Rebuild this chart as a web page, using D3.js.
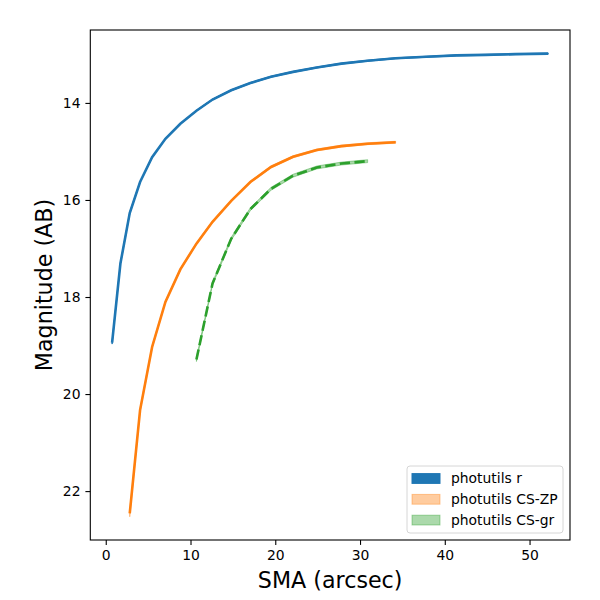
<!DOCTYPE html>
<html>
<head>
<meta charset="utf-8">
<script src="https://cdn.jsdelivr.net/npm/d3@7"></script>
<style>
  body { margin: 0; background: #fff; }
  text { font-family: "DejaVu Sans", sans-serif; }
</style>
</head>
<body>
<div id="chart"></div>
<script>
// semi-major axis grid shared by the three profiles (arcsec)
const sma = [0.75, 1.73, 2.83, 4.05, 5.47, 7.04, 8.8, 10.7, 12.6, 14.8, 17.06,
  19.5, 22.1, 24.9, 27.8, 30.9, 34.2, 37.8, 41.4, 44.8, 48.3, 52.2];

// photutils r : all radii
const magR = [18.94, 17.31, 16.27, 15.63, 15.12, 14.74, 14.43, 14.16, 13.93, 13.74, 13.59,
  13.46, 13.36, 13.27, 13.19, 13.13, 13.08, 13.05, 13.02, 13.01, 12.995, 12.985];
const errR = [0.03, 0.02, 0.02, 0.01, 0.01, 0.01, 0.01, 0.01, 0.01, 0.01, 0.01,
  0.01, 0.01, 0.01, 0.01, 0.01, 0.01, 0.01, 0.01, 0.01, 0.01, 0.01];

// photutils CS-ZP : sma[2] .. sma[16]
const magZP = [22.46, 20.33, 19.03, 18.10, 17.43, 16.90, 16.45, 16.02, 15.63, 15.32, 15.11,
  14.97, 14.89, 14.84, 14.81];
const errZP = [0.07, 0.04, 0.03, 0.02, 0.02, 0.02, 0.02, 0.02, 0.02, 0.02, 0.02,
  0.02, 0.02, 0.02, 0.02];

// photutils CS-gr : sma[7] .. sma[15]
const magGR = [19.29, 17.72, 16.80, 16.19, 15.77, 15.50, 15.33, 15.25, 15.20];
const errGR = [0.04, 0.03, 0.03, 0.03, 0.03, 0.03, 0.03, 0.03, 0.03];

const labels = ["photutils r", "photutils CS-ZP", "photutils CS-gr"];
const xTicks = [0, 10, 20, 30, 40, 50];
const yTicks = [14, 16, 18, 20, 22];

const width = 600, height = 600;
const margin = { left: 90.3, right: 30, top: 30, bottom: 60 };

function build(start, mags, errs) {
  return mags.map((m, i) => ({ x: sma[start + i], y: m, lo: m - errs[i], hi: m + errs[i] }));
}

const series = [
  { name: labels[0], color: "#1f77b4", bandAlpha: 1.0, dash: null, pts: build(0, magR, errR) },
  { name: labels[1], color: "#ff7f0e", bandAlpha: 0.4, dash: null, pts: build(2, magZP, errZP) },
  { name: labels[2], color: "#2ca02c", bandAlpha: 0.4, dash: "10.3,4.4", pts: build(7, magGR, errGR) }
];

const svg = d3.select("#chart").append("svg")
  .attr("width", width).attr("height", height);

// matplotlib-like 5% padding around the data
const all = series.flatMap(s => s.pts);
const xmin = d3.min(all, d => d.x), xmax = d3.max(all, d => d.x);
const ymin = d3.min(all, d => d.lo), ymax = d3.max(all, d => d.hi);
const xpad = (xmax - xmin) * 0.05, ypad = (ymax - ymin) * 0.05;

const x = d3.scaleLinear()
  .domain([xmin - xpad, xmax + xpad])
  .range([margin.left, width - margin.right]);
// magnitudes: brighter at top
const y = d3.scaleLinear()
  .domain([ymin - ypad, ymax + ypad])
  .range([margin.top, height - margin.bottom]);

const plot = svg.append("g");

// bands
const area = d3.area()
  .x(d => x(d.x))
  .y0(d => y(d.lo))
  .y1(d => y(d.hi));

plot.selectAll("path.band")
  .data(series)
  .enter().append("path")
  .attr("class", "band")
  .attr("d", s => area(s.pts))
  .attr("fill", s => s.color)
  .attr("fill-opacity", s => s.bandAlpha)
  .attr("stroke", s => s.color)
  .attr("stroke-opacity", s => s.bandAlpha)
  .attr("stroke-width", 1);

// lines
const line = d3.line()
  .x(d => x(d.x))
  .y(d => y(d.y));

plot.selectAll("path.line")
  .data(series)
  .enter().append("path")
  .attr("class", "line")
  .attr("d", s => line(s.pts))
  .attr("fill", "none")
  .attr("stroke", s => s.color)
  .attr("stroke-width", 2.6)
  .attr("stroke-dasharray", s => s.dash);

// axes
const xAxis = svg.append("g")
  .attr("transform", `translate(0,${height - margin.bottom})`)
  .call(d3.axisBottom(x).tickValues(xTicks).tickSize(4.9).tickPadding(4.9));
const yAxis = svg.append("g")
  .attr("transform", `translate(${margin.left},0)`)
  .call(d3.axisLeft(y).tickValues(yTicks).tickSize(4.9).tickPadding(4.9));

[xAxis, yAxis].forEach(g => {
  g.select(".domain").remove();
  g.selectAll(".tick line").attr("stroke", "#000").attr("stroke-width", 1.1);
  g.selectAll(".tick text").attr("fill", "#000")
    .style("font-size", "13.9px").style("font-family", "DejaVu Sans");
});

// spines
svg.append("rect")
  .attr("x", margin.left).attr("y", margin.top)
  .attr("width", width - margin.left - margin.right)
  .attr("height", height - margin.top - margin.bottom)
  .attr("fill", "none")
  .attr("stroke", "#000")
  .attr("stroke-width", 1.1);

// axis labels
svg.append("text")
  .attr("x", (margin.left + width - margin.right) / 2)
  .attr("y", 588)
  .attr("text-anchor", "middle")
  .style("font-size", "22.2px")
  .text("SMA (arcsec)");

svg.append("text")
  .attr("transform", `translate(52,${(margin.top + height - margin.bottom) / 2}) rotate(-90)`)
  .attr("text-anchor", "middle")
  .style("font-size", "22.2px")
  .text("Magnitude (AB)");

// legend, lower right
const lg = svg.append("g");
const lgW = 156, lgH = 67;
const lgX = width - margin.right - 7 - lgW;
const lgY = height - margin.bottom - 7 - lgH;
lg.append("rect")
  .attr("x", lgX).attr("y", lgY)
  .attr("width", lgW).attr("height", lgH)
  .attr("rx", 3)
  .attr("fill", "#fff").attr("fill-opacity", 0.8)
  .attr("stroke", "#d6d6d6").attr("stroke-width", 1);

const rows = lg.selectAll("g.row")
  .data(series)
  .enter().append("g")
  .attr("class", "row")
  .attr("transform", (s, i) => `translate(${lgX + 5},${lgY + 12.5 + i * 20.8})`);

rows.append("rect")
  .attr("x", 0).attr("y", -4.9)
  .attr("width", 28).attr("height", 9.8)
  .attr("fill", s => s.color)
  .attr("fill-opacity", s => s.bandAlpha)
  .attr("stroke", s => s.color)
  .attr("stroke-opacity", s => s.bandAlpha);

rows.append("text")
  .attr("x", 39)
  .attr("dy", "0.35em")
  .style("font-size", "13.9px")
  .attr("fill", "#000")
  .text(s => s.name);
</script>
</body>
</html>
